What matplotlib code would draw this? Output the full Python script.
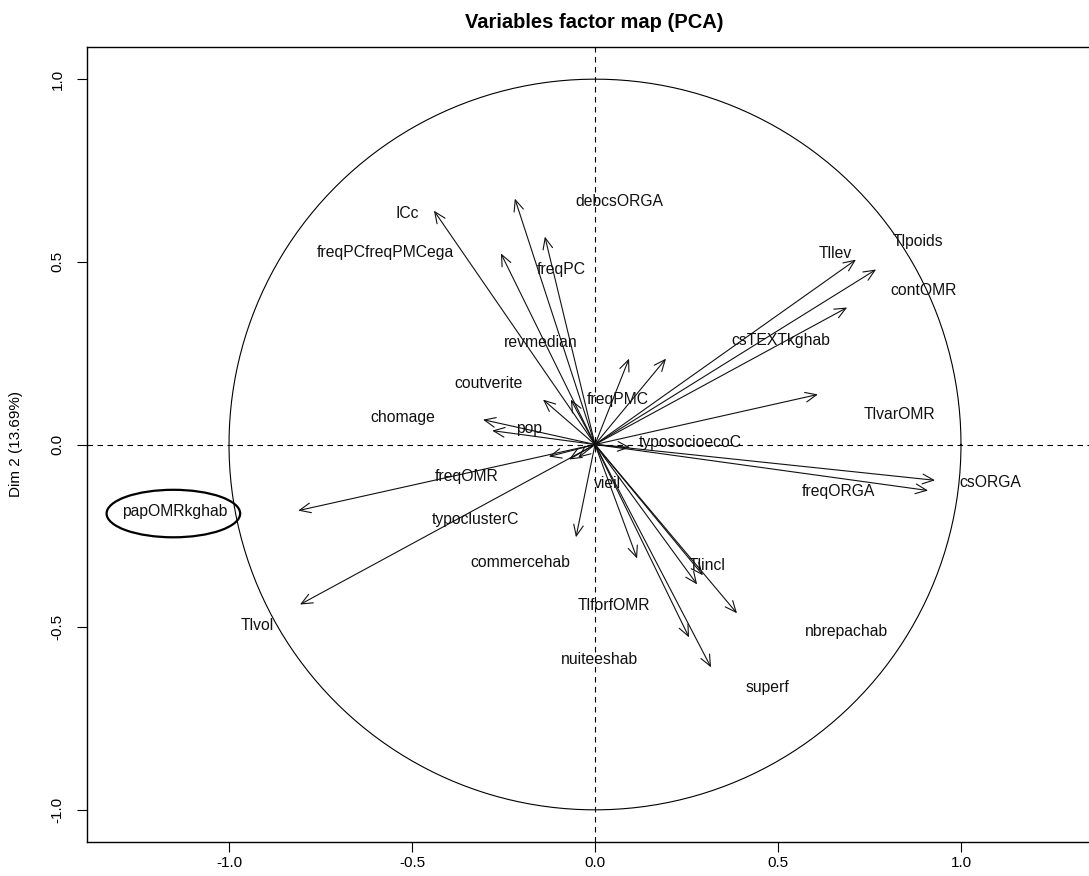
import numpy as np
import matplotlib
matplotlib.use("Agg")
import matplotlib.pyplot as plt
from matplotlib.patches import FancyArrowPatch, Ellipse

plt.rcParams['font.family'] = ['Liberation Sans', 'DejaVu Sans']

# arrow tips (variable coordinates on dim 1 / dim 2)
arrow_x = [-0.440, -0.219, -0.137, -0.257, -0.142, -0.066, -0.306, -0.281,
           0.713, 0.768, 0.689, 0.609, 0.093, 0.194, 0.096,
           0.929, 0.910,
           -0.811, -0.806, -0.126, -0.071, -0.046,
           -0.052, 0.115, 0.279, 0.295, 0.388, 0.257, 0.317]
arrow_y = [0.640, 0.673, 0.569, 0.523, 0.123, 0.123, 0.068, 0.038,
           0.506, 0.479, 0.375, 0.137, 0.235, 0.235, -0.008,
           -0.098, -0.126,
           -0.181, -0.438, -0.033, -0.041, -0.036,
           -0.254, -0.312, -0.383, -0.358, -0.462, -0.528, -0.610]

# variable names and where their labels sit
labels = ["ICc", "freqPCfreqPMCega", "debcsORGA", "freqPC", "revmedian",
          "coutverite", "chomage", "pop", "freqPMC", "typosocioecoC",
          "Tllev", "Tlpoids", "contOMR", "csTEXTkghab", "TlvarOMR",
          "csORGA", "freqORGA", "vieil", "Tlincl", "nbrepachab", "superf",
          "nuiteeshab", "TlforfOMR", "commercehab", "typoclusterC",
          "freqOMR", "Tlvol", "papOMRkghab"]
label_x = [-0.514, -0.574, 0.066, -0.093, -0.148,
           -0.292, -0.525, -0.180, 0.063, 0.260,
           0.656, 0.883, 0.899, 0.508, 0.833,
           1.079, 0.664, 0.033, 0.306, 0.686, 0.470,
           0.011, 0.052, -0.205, -0.328,
           -0.350, -0.923, -1.148]
label_y = [0.631, 0.525, 0.665, 0.479, 0.279,
           0.167, 0.074, 0.044, 0.123, 0.005,
           0.523, 0.555, 0.421, 0.285, 0.082,
           -0.104, -0.129, -0.107, -0.331, -0.512, -0.665,
           -0.588, -0.440, -0.323, -0.205,
           -0.088, -0.495, -0.183]

# highlighted variable
circled = "papOMRkghab"

fig = plt.figure(figsize=(10.89, 8.76), dpi=100)
ax = fig.add_axes([87 / 1089, 34 / 876, 1016 / 1089, 795 / 876])
ax.set_xlim(-1.388, 1.388)
ax.set_ylim(-1.088, 1.088)

# unit circle and dashed axes
t = np.linspace(0, 2 * np.pi, 400)
ax.plot(np.cos(t), np.sin(t), color='black', lw=0.8)
ax.axhline(0, color='black', lw=0.8, ls=(0, (5, 4)))
ax.axvline(0, color='black', lw=0.8, ls=(0, (5, 4)))

for x, y in zip(arrow_x, arrow_y):
    ax.add_patch(FancyArrowPatch((0, 0), (x, y),
                                 arrowstyle='->,head_length=0.8,head_width=0.35',
                                 mutation_scale=10, lw=0.8, color='#111111',
                                 shrinkA=0, shrinkB=0))

for name, x, y in zip(labels, label_x, label_y):
    ax.text(x, y, name, ha='center', va='center', fontsize=11.3, color='#111111')
    if name == circled:
        ax.add_patch(Ellipse((x - 0.004, y - 0.006), 0.365, 0.13,
                             fill=False, lw=1.6, color='black'))

ax.set_xticks([-1.0, -0.5, 0.0, 0.5, 1.0])
ax.set_yticks([-1.0, -0.5, 0.0, 0.5, 1.0])
ax.set_xticklabels(["-1.0", "-0.5", "0.0", "0.5", "1.0"])
ax.set_yticklabels(["-1.0", "-0.5", "0.0", "0.5", "1.0"])
ax.tick_params(direction='out', length=7, width=0.8, labelsize=11)
ax.tick_params(axis='x', pad=3)
ax.tick_params(axis='y', pad=9)
for lab in ax.get_yticklabels():
    lab.set_rotation(90)
    lab.set_va('center')
for sp in ax.spines.values():
    sp.set_linewidth(1.0)

fig.text(594 / 1089, 1 - 22 / 876, "Variables factor map (PCA)",
         ha='center', va='center', fontsize=14.5, fontweight='bold')
fig.text(16 / 1089, 1 - 444 / 876, "Dim 2 (13.69%)", rotation=90,
         ha='center', va='center', fontsize=11)

fig.savefig("out.png", dpi=100)
